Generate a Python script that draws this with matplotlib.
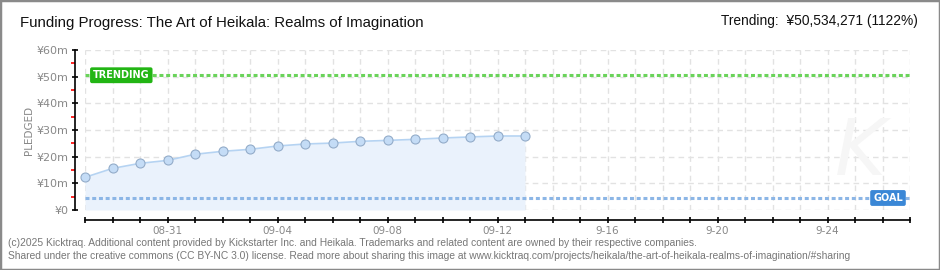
import matplotlib
matplotlib.use("Agg")
import matplotlib.pyplot as plt
from matplotlib.ticker import MultipleLocator, FuncFormatter, FixedLocator
from matplotlib.patches import Rectangle

# ---- data ----
day_index = list(range(17))  # 08-28 .. 09-13
pledged = [12.26e6, 15.6e6, 17.5e6, 18.6e6, 20.9e6, 22.0e6, 22.75e6, 24.0e6, 24.75e6,
           25.1e6, 25.75e6, 26.1e6, 26.5e6, 27.0e6, 27.4e6, 27.75e6, 27.75e6]
goal = 4.504e6
trending = 50.534271e6
total_days = 30
xtick_pos = [3, 7, 11, 15, 19, 23, 27]
xtick_labels = ["08-31", "09-04", "09-08", "09-12", "9-16", "9-20", "9-24"]
title = "Funding Progress: The Art of Heikala: Realms of Imagination"
trend_text = "Trending:  ¥50,534,271 (1122%)"
footer1 = ("(c)2025 Kicktraq. Additional content provided by Kickstarter Inc. and Heikala. "
           "Trademarks and related content are owned by their respective companies.")
footer2 = ("Shared under the creative commons (CC BY-NC 3.0) license. Read more about sharing this "
           "image at www.kicktraq.com/projects/heikala/the-art-of-heikala-realms-of-imagination/#sharing")

NARROW = ['Liberation Sans', 'DejaVu Sans']
plt.rcParams['font.family'] = ['DejaVu Sans']

W, H = 940, 270
fig = plt.figure(figsize=(W / 100, H / 100), dpi=100)
fig.patch.set_facecolor('white')
# border
fig.add_artist(Rectangle((0, 0), 1, 1, transform=fig.transFigure, fill=False,
                         edgecolor='#8a8a8a', linewidth=2.5))

ax = fig.add_axes([85 / W, (H - 210) / H, (910 - 85) / W, 160 / H])
ax.set_facecolor('none')
ax.set_xlim(0, total_days)
ax.set_ylim(0, 60e6)

# grid
grid_kw = dict(color='#e2e2e2', linewidth=1, linestyle=(0, (4, 3)), zorder=0)
for d in range(total_days + 1):
    ax.axvline(d, **grid_kw)
for v in range(0, 61, 10):
    ax.axhline(v * 1e6, **grid_kw)

# watermark
ax.text(28.2, 7.0e6, "K", fontsize=56, fontstyle='italic', color='#f6f6f6',
        ha='center', va='bottom', zorder=0.5)

# area + line
ax.fill_between(day_index, pledged, 0, color='#eaf2fc', zorder=1, linewidth=0)
ax.plot(day_index, pledged, color='#b5d3f2', linewidth=1.2, zorder=3,
        marker='o', markersize=6.5, markerfacecolor='#c4dcf6', markeredgecolor='#93acc9',
        markeredgewidth=0.8, clip_on=False)

# goal & trending lines
ax.axhline(goal, color='#8cb6e6', linewidth=2.2, linestyle=(0, (1.3, 0.9)), zorder=2)
ax.axhline(trending, color='#6ad35a', linewidth=2.2, linestyle=(0, (1.3, 0.9)), zorder=2)

ax.text(1.32, trending, "TRENDING", color='white', fontsize=7, fontweight='bold',
        ha='center', va='center', zorder=5,
        bbox=dict(boxstyle='round,pad=0.3,rounding_size=0.2', facecolor='#22b514', edgecolor='none'))
ax.text(29.2, goal, "GOAL", color='white', fontsize=7, fontweight='bold',
        ha='center', va='center', zorder=5,
        bbox=dict(boxstyle='round,pad=0.3,rounding_size=0.2', facecolor='#3a87d6', edgecolor='none'))

# spines
for s in ['top', 'right']:
    ax.spines[s].set_visible(False)
ax.spines['left'].set_position(('outward', 7.5))
ax.spines['bottom'].set_position(('outward', 7.5))
ax.spines['left'].set_bounds(0, 60e6)
ax.spines['bottom'].set_bounds(0, total_days)
for s in ['left', 'bottom']:
    ax.spines[s].set_color('black')
    ax.spines[s].set_linewidth(1.2)

# y ticks
ax.yaxis.set_major_locator(MultipleLocator(10e6))
ax.yaxis.set_minor_locator(FixedLocator([v * 1e6 for v in range(5, 60, 10)]))
ax.yaxis.set_major_formatter(FuncFormatter(lambda v, p: "¥0" if v == 0 else f"¥{int(v/1e6)}m"))
ax.tick_params(axis='y', which='major', direction='inout', length=5, width=1.2, color='black',
               labelsize=8, labelcolor='#888888', pad=2)
ax.tick_params(axis='y', which='minor', direction='out', length=3, width=1.2, color='#ff0000')

# x ticks
ax.xaxis.set_major_locator(FixedLocator(list(range(total_days + 1))))
lab = {p: l for p, l in zip(xtick_pos, xtick_labels)}
ax.xaxis.set_major_formatter(FuncFormatter(lambda v, p: lab.get(int(round(v)), "")))
ax.tick_params(axis='x', which='major', direction='inout', length=5, width=1.2, color='black',
               labelsize=7.5, labelcolor='#888888', pad=1.5)

ax.set_ylabel("PLEDGED", fontsize=7.5, color='#888888', labelpad=2)

# texts
fig.text(20 / W, 1 - 23 / H, title, fontsize=10.8, family=NARROW, color='#111111', va='center', ha='left')
fig.text(918 / W, 1 - 21 / H, trend_text, fontsize=9.9, family=NARROW, color='#111111', va='center', ha='right')
fig.text(8 / W, 1 - 243 / H, footer1, fontsize=7.4, family=NARROW, color='#777777', va='center', ha='left')
fig.text(8 / W, 1 - 256 / H, footer2, fontsize=7.4, family=NARROW, color='#777777', va='center', ha='left')

fig.savefig("out.png", dpi=100, facecolor='white')
